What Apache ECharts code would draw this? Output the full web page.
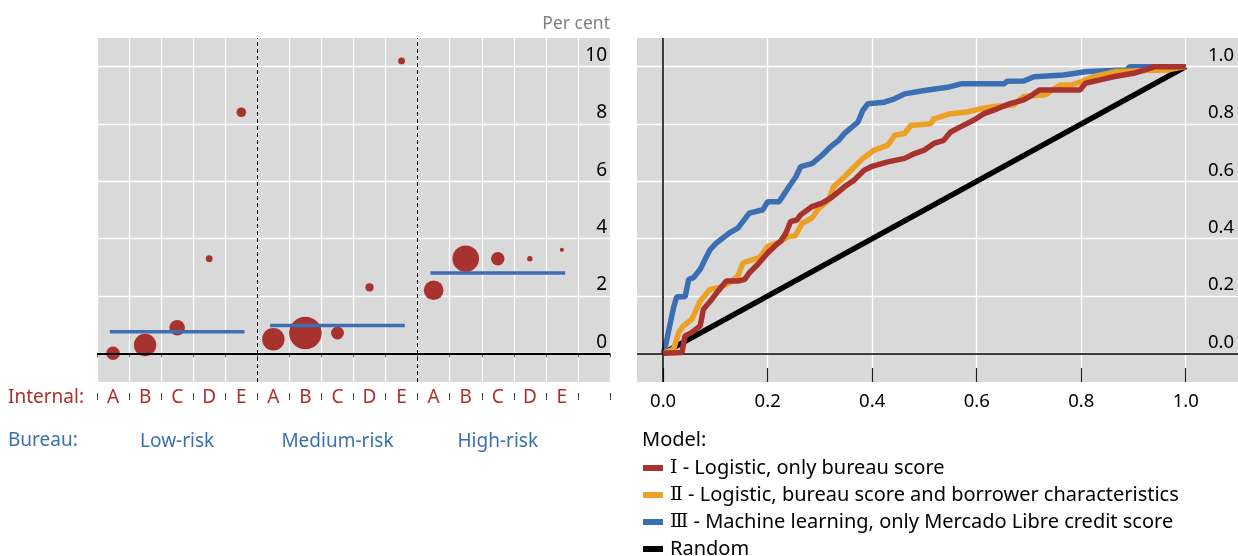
<!DOCTYPE html>
<html><head><meta charset="utf-8">
<script src="https://cdn.jsdelivr.net/npm/echarts@6/dist/echarts.min.js"></script>
<style>html,body{margin:0;padding:0;background:#fff}#c{width:1238px;height:556px}</style>
</head><body><div id="c"></div>
<script>
// ---------- data ----------
const internalGrades = ['A', 'B', 'C', 'D', 'E'];
const bureauGroups = ['Low-risk', 'Medium-risk', 'High-risk'];
const lowRiskRates = [0.0, 0.29, 0.89, 3.30, 8.41];
const mediumRiskRates = [0.49, 0.71, 0.71, 2.30, 10.2];
const highRiskRates = [2.20, 3.30, 3.30, 3.30, 3.61];
const lowRiskShares = [4.3, 11.9, 5.7, 1.1, 2.2];
const mediumRiskShares = [11.9, 25.1, 3.9, 1.6, 1.1];
const highRiskShares = [9.2, 16.7, 4.3, 0.7, 0.4];
const bureauAverages = [0.75, 0.97, 2.80];
const leftYTicks = [0, 2, 4, 6, 8, 10];
const rocXTicks = [0, 0.2, 0.4, 0.6, 0.8, 1.0];
const rocYTicks = [0, 0.2, 0.4, 0.6, 0.8, 1.0];
const modelNames = ['Ⅰ - Logistic, only bureau score', 'Ⅱ - Logistic, bureau score and borrower characteristics', 'Ⅲ - Machine learning, only Mercado Libre credit score', 'Random'];
const modelI = [[0,0],[0.036,0.003],[0.042,0.061],[0.055,0.073],[0.071,0.096],[0.077,0.154],[0.093,0.188],[0.105,0.217],[0.121,0.252],[0.143,0.252],[0.156,0.258],[0.165,0.281],[0.181,0.31],[0.2,0.35],[0.213,0.373],[0.225,0.391],[0.235,0.42],[0.244,0.46],[0.256,0.465],[0.263,0.483],[0.285,0.512],[0.304,0.524],[0.32,0.541],[0.336,0.564],[0.347,0.581],[0.366,0.605],[0.385,0.639],[0.398,0.651],[0.43,0.668],[0.462,0.68],[0.481,0.697],[0.5,0.709],[0.518,0.732],[0.537,0.743],[0.55,0.772],[0.569,0.79],[0.594,0.813],[0.614,0.836],[0.639,0.853],[0.664,0.871],[0.69,0.884],[0.706,0.901],[0.72,0.919],[0.798,0.919],[0.808,0.942],[0.836,0.954],[0.862,0.965],[0.9,0.977],[0.931,0.994],[0.941,1.0],[1,1]];
const modelII = [[0,0],[0.02,0.015],[0.03,0.073],[0.039,0.096],[0.055,0.119],[0.064,0.154],[0.071,0.183],[0.09,0.223],[0.11,0.231],[0.127,0.246],[0.143,0.269],[0.153,0.316],[0.172,0.327],[0.185,0.335],[0.2,0.373],[0.219,0.385],[0.241,0.408],[0.253,0.41],[0.266,0.454],[0.285,0.472],[0.298,0.506],[0.317,0.535],[0.326,0.581],[0.347,0.616],[0.366,0.651],[0.382,0.68],[0.404,0.709],[0.43,0.726],[0.443,0.761],[0.462,0.767],[0.474,0.795],[0.512,0.801],[0.518,0.818],[0.55,0.836],[0.582,0.842],[0.607,0.853],[0.627,0.859],[0.671,0.867],[0.69,0.896],[0.732,0.902],[0.745,0.919],[0.76,0.936],[0.78,0.936],[0.801,0.948],[0.823,0.965],[0.868,0.983],[0.963,0.988],[1,1]];
const modelIII = [[0,0],[0.005,0.03],[0.02,0.16],[0.026,0.197],[0.042,0.197],[0.049,0.258],[0.058,0.264],[0.071,0.293],[0.08,0.327],[0.09,0.362],[0.102,0.385],[0.127,0.42],[0.143,0.437],[0.165,0.489],[0.191,0.501],[0.2,0.529],[0.222,0.529],[0.241,0.582],[0.254,0.616],[0.263,0.651],[0.285,0.662],[0.304,0.691],[0.32,0.72],[0.336,0.743],[0.347,0.767],[0.373,0.807],[0.382,0.847],[0.392,0.871],[0.423,0.876],[0.443,0.888],[0.462,0.905],[0.5,0.917],[0.544,0.928],[0.57,0.94],[0.652,0.94],[0.658,0.949],[0.69,0.95],[0.71,0.965],[0.766,0.971],[0.811,0.983],[0.887,0.988],[0.893,1.0],[1,1]];
const randomModel = [[0,0],[1,1]];

// ---------- style ----------
const FONT = "'Noto Sans', 'Open Sans', 'Noto Sans CJK SC', sans-serif";
const RED = '#a8322e', ORANGE = '#eca124', BLUE = '#3c6eb4', BG = '#d9d9d9';

// ---------- derived structures ----------
const groupRates = [lowRiskRates, mediumRiskRates, highRiskRates];
const groupShares = [lowRiskShares, mediumRiskShares, highRiskShares];
const bubbleData = [];
groupRates.forEach((rates, g) => rates.forEach((r, i) => {
  bubbleData.push([g * internalGrades.length + i + 0.5, r, groupShares[g][i]]);
}));
const letterCats = [];
bureauGroups.forEach(() => internalGrades.forEach(l => letterCats.push(l)));
letterCats.push('');
const bureauCats = letterCats.map(() => '');
bureauGroups.forEach((b, g) => { bureauCats[g * internalGrades.length + 2] = b; });
const nCols = letterCats.length;
const rocMin = -0.05, rocMax = 1.1, rocStep = 0.05;
const rocCats = [];
for (let k = 0; k <= Math.round((rocMax - rocMin) / rocStep); k++) rocCats.push((rocMin + k * rocStep).toFixed(2));
const isRocTick = (i, v) => rocXTicks.some(t => Math.abs(t - Number(v)) < 1e-6);

const avgSeries = bureauAverages.map((a, g) => ({
  type: 'line', xAxisIndex: 0, yAxisIndex: 0, z: 6, silent: true,
  symbol: 'none', lineStyle: { color: BLUE, width: 3.5 },
  data: [[g * 5 + 0.5 - 0.1, a], [g * 5 + 4.5 + 0.1, a]]
}));

const chart = echarts.init(document.getElementById('c'), null, { renderer: 'canvas' });
chart.setOption({
  animation: false,
  textStyle: { fontFamily: FONT },
  grid: [
    { left: 97, top: 38, width: 513, height: 344, show: true, backgroundColor: BG, borderWidth: 0 },
    { left: 637, top: 38, width: 603, height: 344, show: true, backgroundColor: BG, borderWidth: 0 }
  ],
  xAxis: [
    { type: 'value', gridIndex: 0, position: 'bottom', min: 0, max: nCols, interval: 1,
      axisLine: { show: false }, axisLabel: { show: false },
      axisTick: { show: true, length: 4, lineStyle: { color: '#555', width: 1 } },
      splitLine: { show: true, lineStyle: { color: '#fff', width: 1.3 } } },
    { type: 'category', gridIndex: 0, position: 'bottom', data: letterCats, offset: 11,
      axisLine: { show: false },
      axisTick: { show: true, length: 7, lineStyle: { color: '#444', width: 1 } },
      axisLabel: { interval: 0, color: RED, fontSize: 19, fontFamily: FONT, margin: -5, lineHeight: 20 },
      splitLine: { show: false } },
    { type: 'category', gridIndex: 0, position: 'bottom', data: bureauCats, offset: 49,
      axisLine: { show: false }, axisTick: { show: false },
      axisLabel: { interval: 0, color: BLUE, fontSize: 19, fontFamily: FONT, margin: 0, lineHeight: 22 },
      splitLine: { show: false } },
    { type: 'value', gridIndex: 1, position: 'bottom', min: rocMin, max: rocMax, show: false },
    { type: 'category', gridIndex: 1, position: 'bottom', data: rocCats, boundaryGap: false,
      axisLine: { show: false },
      axisTick: { show: true, inside: true, length: 14, interval: isRocTick, lineStyle: { color: '#222', width: 1.2 } },
      axisLabel: { interval: isRocTick, color: '#000', fontSize: 18.5, fontFamily: FONT, margin: 10,
        formatter: v => Number(v).toFixed(1) },
      splitLine: { show: true, interval: isRocTick, lineStyle: { color: '#fff', width: 1.3 } } }
  ],
  yAxis: [
    { type: 'value', gridIndex: 0, position: 'right', min: -1, max: 11, interval: 1,
      axisLine: { show: false }, axisTick: { show: false },
      splitLine: { show: true, lineStyle: { color: ['rgba(0,0,0,0)', '#fff'], width: 1.3 } },
      axisLabel: { inside: true, margin: 3, color: '#000', fontSize: 19, fontFamily: FONT,
        verticalAlign: 'bottom', lineHeight: 22,
        formatter: v => leftYTicks.includes(Math.round(v)) && Math.abs(v - Math.round(v)) < 1e-6 ? String(Math.round(v)) : '' } },
    { type: 'value', gridIndex: 1, position: 'right', min: -0.1, max: 1.1, interval: 0.1,
      axisLine: { show: false }, axisTick: { show: false },
      splitLine: { show: true, lineStyle: { color: ['rgba(0,0,0,0)', '#fff'], width: 1.3 } },
      axisLabel: { inside: true, margin: 4, color: '#000', fontSize: 18.5, fontFamily: FONT,
        verticalAlign: 'bottom', lineHeight: 22,
        formatter: v => { const r = Math.round(v * 10) / 10; return rocYTicks.some(t => Math.abs(t - r) < 1e-6) ? r.toFixed(1) : ''; } } }
  ],
  legend: {
    data: modelNames, orient: 'vertical', left: 643, top: 458, height: 130, padding: 0, itemWidth: 20, itemHeight: 6,
    itemGap: 7, icon: 'rect', selectedMode: false,
    formatter: name => { const i = name.indexOf(' - '); return i < 0 ? name : '{r|' + name.slice(0, i) + '}' + name.slice(i); },
    textStyle: { fontSize: 20, color: '#000', fontFamily: FONT, lineHeight: 18, padding: [0, 0, 0, 2],
      rich: { r: { fontFamily: "'DejaVu Serif', serif", fontSize: 19, color: '#000', lineHeight: 18 } } }
  },
  graphic: [
    { type: 'text', style: { text: 'Per cent', x: 610, y: 24, textAlign: 'right', textVerticalAlign: 'middle', fill: '#7f7f7f', font: "17.5px " + FONT } },
    { type: 'text', style: { text: 'Internal:', x: 8, y: 398, textAlign: 'left', textVerticalAlign: 'middle', fill: RED, font: "19px " + FONT } },
    { type: 'text', style: { text: 'Bureau:', x: 8, y: 441, textAlign: 'left', textVerticalAlign: 'middle', fill: BLUE, font: "19px " + FONT } },
    { type: 'text', style: { text: 'Model:', x: 642, y: 440, textAlign: 'left', textVerticalAlign: 'middle', fill: '#000', font: "20px " + FONT } }
  ],
  series: [
    { type: 'scatter', xAxisIndex: 0, yAxisIndex: 0, data: [], z: 1, silent: true,
      markLine: { silent: true, symbol: 'none', label: { show: false },
        data: [
          { xAxis: 5, lineStyle: { type: [4, 3], color: '#000', width: 1 } },
          { xAxis: 10, lineStyle: { type: [4, 3], color: '#000', width: 1 } },
          { yAxis: 0, lineStyle: { type: 'solid', color: '#000', width: 2 } }
        ] } },
    { type: 'scatter', xAxisIndex: 0, yAxisIndex: 0, z: 4, silent: true,
      data: bubbleData, symbolSize: d => Math.sqrt(d[2]) * 6.5,
      itemStyle: { color: RED, opacity: 1 } },
    ...avgSeries,
    { type: 'scatter', xAxisIndex: 3, yAxisIndex: 1, data: [], z: 1, silent: true,
      markLine: { silent: true, symbol: 'none', label: { show: false },
        data: [
          { xAxis: 0, lineStyle: { type: 'solid', color: '#000', width: 1.5 } },
          { yAxis: 0, lineStyle: { type: 'solid', color: '#000', width: 1.5 } }
        ] } },
    { name: modelNames[3], type: 'line', xAxisIndex: 3, yAxisIndex: 1, z: 2, data: randomModel,
      symbol: 'none', lineStyle: { color: '#000', width: 5.5 }, itemStyle: { color: '#000' } },
    { name: modelNames[2], type: 'line', xAxisIndex: 3, yAxisIndex: 1, z: 3, data: modelIII,
      symbol: 'none', lineStyle: { color: BLUE, width: 5.5 }, itemStyle: { color: BLUE } },
    { name: modelNames[1], type: 'line', xAxisIndex: 3, yAxisIndex: 1, z: 4, data: modelII,
      symbol: 'none', lineStyle: { color: ORANGE, width: 5.5 }, itemStyle: { color: ORANGE } },
    { name: modelNames[0], type: 'line', xAxisIndex: 3, yAxisIndex: 1, z: 5, data: modelI,
      symbol: 'none', lineStyle: { color: RED, width: 5.5 }, itemStyle: { color: RED } }
  ]
});
</script></body></html>
